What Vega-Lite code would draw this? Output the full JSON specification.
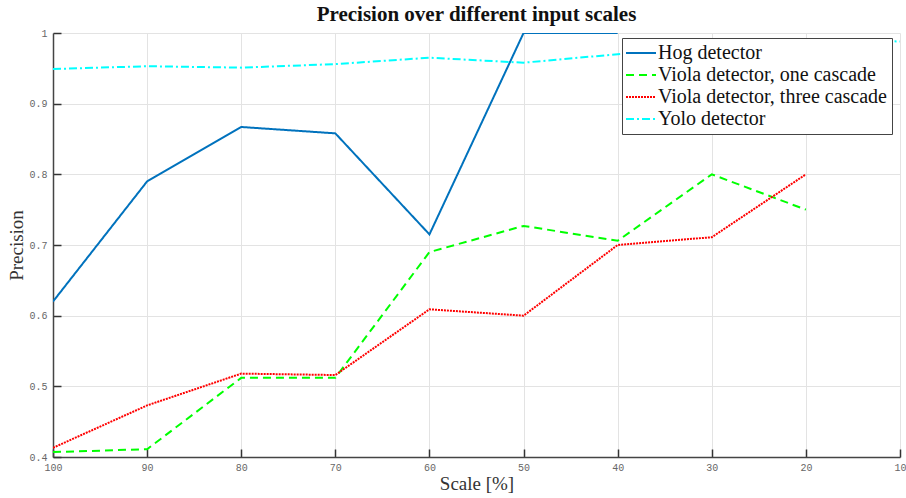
{
  "$schema": "https://vega.github.io/schema/vega-lite/v6.json",
  "autosize": "none",
  "width": 847,
  "height": 424,
  "padding": {"left": 53, "top": 33, "right": 6, "bottom": 41},
  "background": "white",
  "title": {"text": "Precision over different input scales", "font": "Liberation Serif", "fontSize": 21, "fontWeight": "bold", "color": "#111", "offset": 3, "anchor": "middle"},
  "config": {"view": {"stroke": null}},
  "data": {"values": [
    {"scale": 100, "precision": 0.62, "series": "Hog detector"},
    {"scale": 90, "precision": 0.79, "series": "Hog detector"},
    {"scale": 80, "precision": 0.867, "series": "Hog detector"},
    {"scale": 70, "precision": 0.858, "series": "Hog detector"},
    {"scale": 60, "precision": 0.715, "series": "Hog detector"},
    {"scale": 50, "precision": 1.0, "series": "Hog detector"},
    {"scale": 40, "precision": 1.0, "series": "Hog detector"},
    {"scale": 100, "precision": 0.407, "series": "Viola detector, one cascade"},
    {"scale": 90, "precision": 0.411, "series": "Viola detector, one cascade"},
    {"scale": 80, "precision": 0.512, "series": "Viola detector, one cascade"},
    {"scale": 70, "precision": 0.512, "series": "Viola detector, one cascade"},
    {"scale": 60, "precision": 0.69, "series": "Viola detector, one cascade"},
    {"scale": 50, "precision": 0.727, "series": "Viola detector, one cascade"},
    {"scale": 40, "precision": 0.706, "series": "Viola detector, one cascade"},
    {"scale": 30, "precision": 0.8, "series": "Viola detector, one cascade"},
    {"scale": 20, "precision": 0.75, "series": "Viola detector, one cascade"},
    {"scale": 100, "precision": 0.413, "series": "Viola detector, three cascade"},
    {"scale": 90, "precision": 0.473, "series": "Viola detector, three cascade"},
    {"scale": 80, "precision": 0.518, "series": "Viola detector, three cascade"},
    {"scale": 70, "precision": 0.516, "series": "Viola detector, three cascade"},
    {"scale": 60, "precision": 0.609, "series": "Viola detector, three cascade"},
    {"scale": 50, "precision": 0.6, "series": "Viola detector, three cascade"},
    {"scale": 40, "precision": 0.7, "series": "Viola detector, three cascade"},
    {"scale": 30, "precision": 0.711, "series": "Viola detector, three cascade"},
    {"scale": 20, "precision": 0.8, "series": "Viola detector, three cascade"},
    {"scale": 100, "precision": 0.949, "series": "Yolo detector"},
    {"scale": 90, "precision": 0.953, "series": "Yolo detector"},
    {"scale": 80, "precision": 0.951, "series": "Yolo detector"},
    {"scale": 70, "precision": 0.956, "series": "Yolo detector"},
    {"scale": 60, "precision": 0.965, "series": "Yolo detector"},
    {"scale": 50, "precision": 0.958, "series": "Yolo detector"},
    {"scale": 40, "precision": 0.97, "series": "Yolo detector"},
    {"scale": 30, "precision": 0.98, "series": "Yolo detector"},
    {"scale": 20, "precision": 0.991, "series": "Yolo detector"},
    {"scale": 10, "precision": 0.988, "series": "Yolo detector"}
  ]},
  "mark": {"type": "line", "strokeWidth": 2, "clip": true},
  "encoding": {
    "x": {
      "field": "scale", "type": "quantitative",
      "scale": {"domain": [100, 10], "nice": false, "zero": false},
      "axis": {
        "title": "Scale [%]", "titleFont": "Liberation Serif", "titleFontSize": 19, "titleFontWeight": "normal", "titleColor": "#333", "titlePadding": 2,
        "values": [100, 90, 80, 70, 60, 50, 40, 30, 20, 10],
        "labelFont": "Liberation Mono", "labelFontSize": 10, "labelColor": "#666", "labelPadding": 13, "labelFlush": false,
        "tickSize": -8, "tickColor": "#333", "tickWidth": 1.5,
        "domainColor": "#444", "domainWidth": 1.5,
        "grid": true, "gridColor": "#e3e3e3", "gridWidth": 1
      }
    },
    "y": {
      "field": "precision", "type": "quantitative",
      "scale": {"domain": [0.4, 1], "nice": false, "zero": false},
      "axis": {
        "title": "Precision", "titleFont": "Liberation Serif", "titleFontSize": 19, "titleFontWeight": "normal", "titleColor": "#333", "titlePadding": 2,
        "values": [0.4, 0.5, 0.6, 0.7, 0.8, 0.9, 1.0], "format": ".1~f",
        "labelFont": "Liberation Mono", "labelFontSize": 10, "labelColor": "#666", "labelPadding": 14, "labelFlush": false,
        "tickSize": -8, "tickColor": "#333", "tickWidth": 1.5,
        "domainColor": "#444", "domainWidth": 1.5,
        "grid": true, "gridColor": "#e3e3e3", "gridWidth": 1
      }
    },
    "color": {
      "field": "series", "type": "nominal",
      "scale": {"domain": ["Hog detector", "Viola detector, one cascade", "Viola detector, three cascade", "Yolo detector"], "range": ["#0072BD", "#00FF00", "#FF0000", "#00FFFF"]},
      "legend": {
        "title": null, "orient": "none", "legendX": 569, "legendY": 5,
        "fillColor": "white", "strokeColor": "#444", "padding": 5,
        "labelFont": "Liberation Serif", "labelFontSize": 20, "labelColor": "#111", "labelLimit": 400,
        "symbolType": "M-3,0H3", "symbolSize": 100, "symbolStrokeWidth": 2, "symbolOffset": 4, "rowPadding": 2, "labelOffset": 7
      }
    },
    "strokeDash": {
      "field": "series", "type": "nominal",
      "scale": {"domain": ["Hog detector", "Viola detector, one cascade", "Viola detector, three cascade", "Yolo detector"], "range": [[1, 0], [8, 5], [2, 1], [8, 3, 2, 3]]},
      "legend": {
        "title": null, "orient": "none", "legendX": 569, "legendY": 5,
        "fillColor": "white", "strokeColor": "#444", "padding": 5,
        "labelFont": "Liberation Serif", "labelFontSize": 20, "labelColor": "#111", "labelLimit": 400,
        "symbolType": "M-3,0H3", "symbolSize": 100, "symbolStrokeWidth": 2, "symbolOffset": 4, "rowPadding": 2, "labelOffset": 7
      }
    }
  }
}
